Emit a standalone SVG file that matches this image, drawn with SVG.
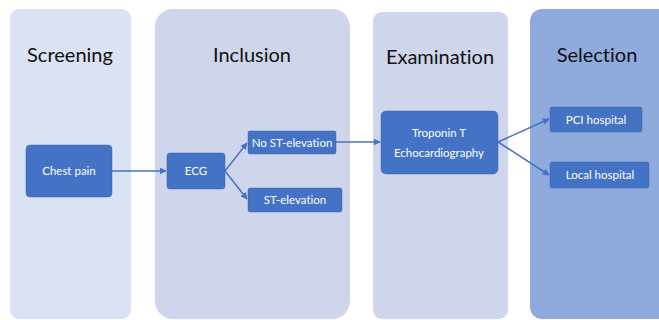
<svg xmlns="http://www.w3.org/2000/svg" width="659" height="320" viewBox="0 0 659 320">
<defs>
<marker id="ah" viewBox="0 0 10 10" refX="9" refY="5" markerWidth="7" markerHeight="7" markerUnits="userSpaceOnUse" orient="auto">
<path d="M0,0 L10,5 L0,10 z" fill="#4472c4"/>
</marker>
<style>
text{font-variant-ligatures:none}
.title{font-family:Lato,"Open Sans","Liberation Sans",sans-serif;font-size:20px;fill:#111;text-anchor:middle}
.box{fill:#4472c4;stroke:#3c66b0;stroke-width:0.5}
.lbl{font-family:Lato,"Open Sans","Liberation Sans",sans-serif;font-size:11.5px;fill:#fff;text-anchor:middle}
.con{stroke:#4472c4;stroke-width:1.5;fill:none;marker-end:url(#ah)}
</style>
</defs>
<rect width="659" height="320" fill="#fff"/>
<g id="lane-screening">
<rect x="10" y="9" width="121" height="310" rx="9" fill="#dae3f3"/>
<text class="title" x="70" y="62">Screening</text>
</g>
<g id="lane-inclusion">
<rect x="155" y="9" width="195" height="310" rx="18" fill="#cfd5ea"/>
<text class="title" x="252" y="62">Inclusion</text>
</g>
<g id="lane-examination">
<rect x="373" y="12" width="135" height="307" rx="9" fill="#cfd5ea"/>
<text class="title" x="440" y="64">Examination</text>
</g>
<g id="lane-selection">
<rect x="530" y="9" width="140" height="310" rx="12" fill="#8faadc"/>
<text class="title" x="597" y="62">Selection</text>
</g>
<g id="connectors">
<line class="con" x1="112" y1="171" x2="166" y2="171"/>
<line class="con" x1="225" y1="171" x2="247" y2="143"/>
<line class="con" x1="225" y1="171" x2="247" y2="199"/>
<line class="con" x1="336" y1="142" x2="380" y2="142"/>
<line class="con" x1="498" y1="142" x2="549" y2="119"/>
<line class="con" x1="498" y1="142" x2="549" y2="175"/>
</g>
<g id="chest-pain">
<rect class="box" x="26" y="145" width="86" height="52" rx="4"/>
<text class="lbl" x="69" y="175">Chest pain</text>
</g>
<g id="ecg">
<rect class="box" x="167" y="153" width="58" height="36" rx="3"/>
<text class="lbl" x="196" y="175">ECG</text>
</g>
<g id="no-st-elevation">
<rect class="box" x="248" y="131" width="88" height="23" rx="2"/>
<text class="lbl" x="292" y="146.5">No ST-elevation</text>
</g>
<g id="st-elevation">
<rect class="box" x="248" y="188" width="94" height="24" rx="2"/>
<text class="lbl" x="295" y="204">ST-elevation</text>
</g>
<g id="examination-box">
<rect class="box" x="381" y="111" width="117" height="63" rx="5"/>
<text class="lbl" x="439" y="137">Troponin T</text>
<text class="lbl" x="439" y="157">Echocardiography</text>
</g>
<g id="pci-hospital">
<rect class="box" x="550" y="107" width="92" height="25" rx="2"/>
<text class="lbl" x="596" y="124">PCI hospital</text>
</g>
<g id="local-hospital">
<rect class="box" x="550" y="162" width="99" height="26" rx="2"/>
<text class="lbl" x="600" y="179">Local hospital</text>
</g>
</svg>
